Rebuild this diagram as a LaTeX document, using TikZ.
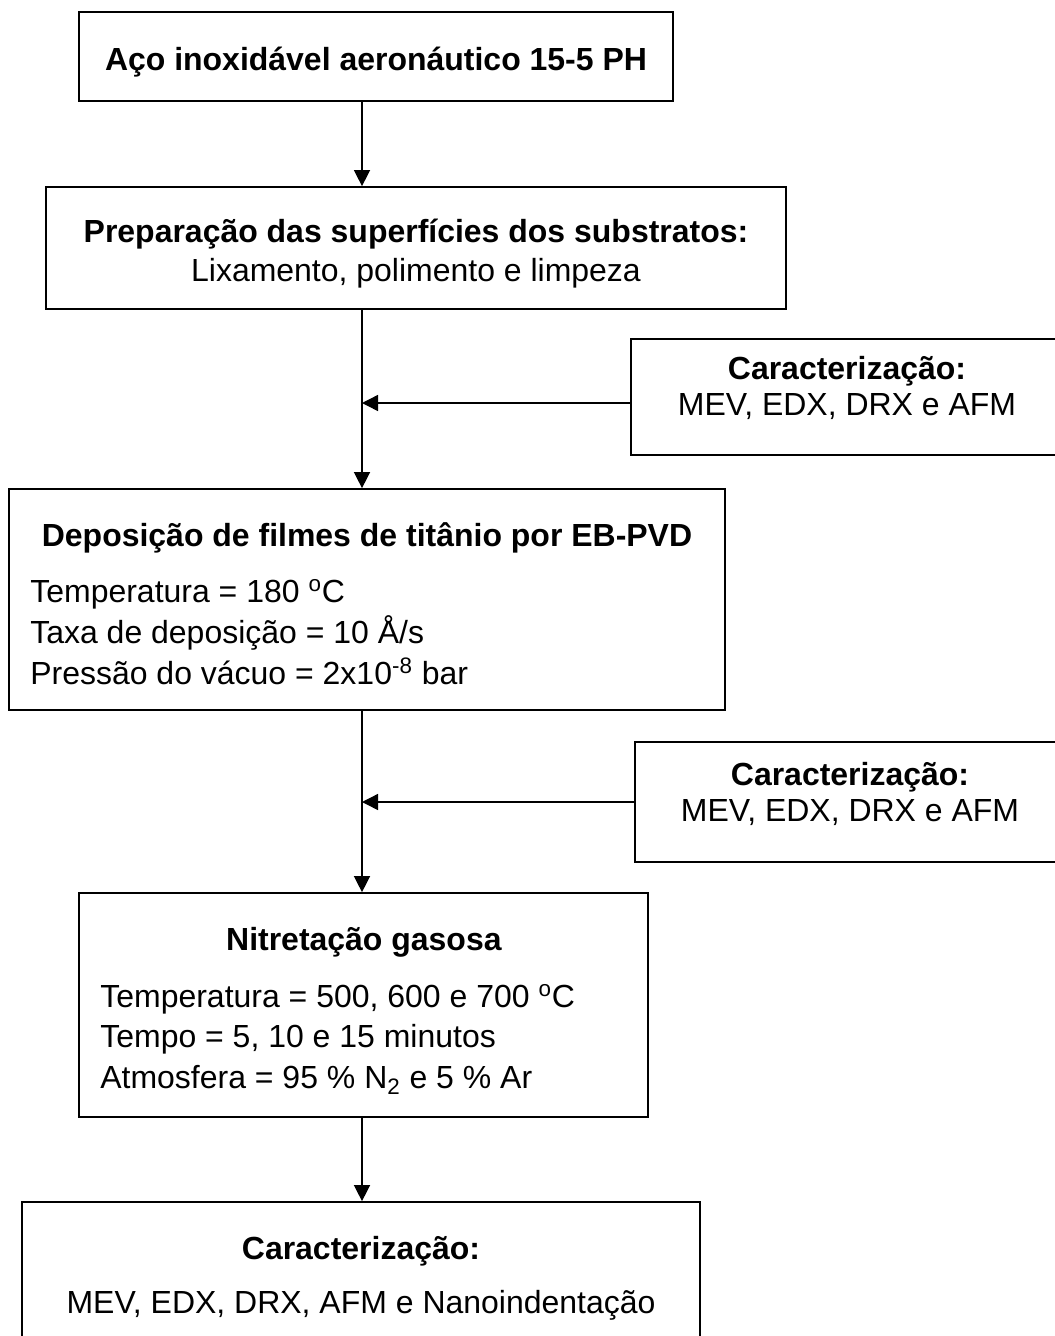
\documentclass[tikz,border=0pt]{standalone}
\usepackage{fontspec}
\setmainfont{Liberation Sans}
\usetikzlibrary{arrows.meta}

\begin{document}
\begin{tikzpicture}[x=0.02cm, y=-0.02cm,
  box/.style={draw, rectangle, line width=1pt},
  txt/.style={font=\fontsize{18.2}{23.3}\selectfont, inner sep=0pt},
  flow/.style={-{Triangle[length=0.32cm, width=0.32cm]}, line width=0.8pt}]
\useasboundingbox (0,0) rectangle (1055,1336);
\coordinate (spine) at (362,0);

\node[box, minimum width=11.88cm, minimum height=1.78cm] (aco) at (376,56.5) {};
\node[txt] (acotxt) at (376,62) {\textbf{Aço inoxidável aeronáutico 15-5 PH}};

\node[box, minimum width=14.8cm, minimum height=2.44cm] (prep) at (416,248) {};
\node[txt, align=center] (preptxt) at (416,254) {\textbf{Preparação das superfícies dos substratos:}\\[-1.1pt] Lixamento, polimento e limpeza};

\node[box, minimum width=8.64cm, minimum height=2.32cm] (carac1) at (847,397) {};
\node[txt, align=center] (carac1txt) at (847,388) {\textbf{Caracterização:}\\[-2.8pt] MEV, EDX, DRX e AFM};

\node[box, minimum width=14.32cm, minimum height=4.42cm] (dep) at (367,599.5) {};
\node[txt] (deptitle) at (367,538) {\textbf{Deposição de filmes de titânio por EB-PVD}};
\node[txt, align=left, anchor=west] (depparam) at (30,632) {Temperatura = 180 \textsuperscript{o}C\\ Taxa de deposição = 10 Å/s\\ Pressão do vácuo = 2x10\textsuperscript{-8} bar};

\node[box, minimum width=8.6cm, minimum height=2.4cm] (carac2) at (850,802) {};
\node[txt, align=center] (carac2txt) at (850,794) {\textbf{Caracterização:}\\[-2.8pt] MEV, EDX, DRX e AFM};

\node[box, minimum width=11.38cm, minimum height=4.48cm] (nit) at (363.5,1005) {};
\node[txt] (nittitle) at (364,942) {\textbf{Nitretação gasosa}};
\node[txt, align=left, anchor=west] (nitparam) at (100,1039) {Temperatura = 500, 600 e 700 \textsuperscript{o}C\\ Tempo = 5, 10 e 15 minutos\\ Atmosfera = 95 \% N\textsubscript{2} e 5 \% Ar};

\node[box, minimum width=13.56cm, minimum height=3cm] (carac3) at (361,1277) {};
\node[txt, align=center] (carac3txt) at (361,1278) {\textbf{Caracterização:}\\[7.4pt] MEV, EDX, DRX, AFM e Nanoindentação};

\draw[flow] (aco.south -| spine) -- (prep.north -| spine);
\draw[flow] (prep.south -| spine) -- (dep.north -| spine);
\draw[flow] ([yshift=-0.12cm]carac1.west) -- ([yshift=-0.12cm]carac1.west -| spine);
\draw[flow] (dep.south -| spine) -- (nit.north -| spine);
\draw[flow] (carac2.west) -- (carac2.west -| spine);
\draw[flow] (nit.south -| spine) -- (carac3.north -| spine);
\end{tikzpicture}
\end{document}
